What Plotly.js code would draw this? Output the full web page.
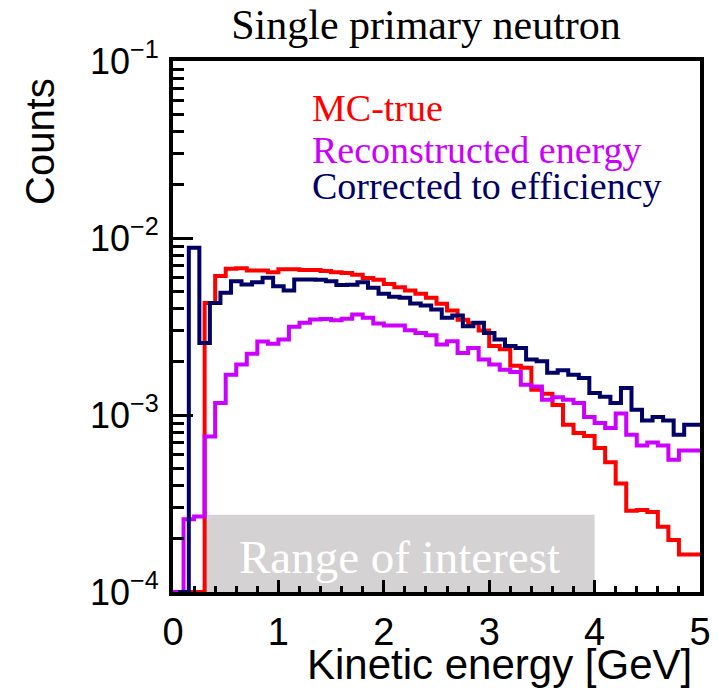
<!DOCTYPE html>
<html>
<head>
<meta charset="utf-8">
<script src="https://cdn.plot.ly/plotly-3.0.1.min.js"></script>
<style>html,body{margin:0;padding:0;background:#fff;}#chart{width:718px;height:691px;}</style>
</head>
<body>
<div id="chart"></div>
<script>
// ---- data (counts per 0.1 GeV bin) ----
const binWidth = 0.1;
const mcTrueLowEdge = 0.0;
const recoLowEdge = 0.0;
const correctedLowEdge = 0.05;

const mcTrue = [0, 0, 0, 4.3e-3, 6.1e-3, 6.7e-3, 6.75e-3, 6.55e-3, 6.55e-3, 6.4e-3,
  6.65e-3, 6.65e-3, 6.6e-3, 6.6e-3, 6.5e-3, 6.4e-3, 6.35e-3, 6.2e-3, 5.95e-3, 5.8e-3,
  5.5e-3, 5.27e-3, 5.05e-3, 4.84e-3, 4.6e-3, 4.25e-3, 3.9e-3, 3.45e-3, 3.3e-3, 3.0e-3,
  2.45e-3, 2.35e-3, 1.9e-3, 1.85e-3, 1.39e-3, 1.32e-3, 1.14e-3, 8.8e-4, 7.9e-4, 7.6e-4,
  6.5e-4, 5.4e-4, 4.1e-4, 2.88e-4, 2.91e-4, 2.83e-4, 2.34e-4, 1.97e-4, 1.63e-4, 1.63e-4];

const reconstructed = [0, 2.58e-4, 2.67e-4, 7.57e-4, 1.17e-3, 1.69e-3, 1.93e-3, 2.22e-3, 2.6e-3, 2.53e-3,
  2.67e-3, 3.15e-3, 3.32e-3, 3.46e-3, 3.49e-3, 3.43e-3, 3.5e-3, 3.7e-3, 3.54e-3, 3.29e-3,
  3.2e-3, 3.2e-3, 3.01e-3, 2.91e-3, 2.82e-3, 2.5e-3, 2.61e-3, 2.24e-3, 2.39e-3, 2.06e-3,
  1.93e-3, 1.8e-3, 1.75e-3, 1.48e-3, 1.45e-3, 1.22e-3, 1.26e-3, 1.22e-3, 1.17e-3, 9.75e-4,
  9.0e-4, 8.44e-4, 1.02e-3, 7.74e-4, 6.73e-4, 7.0e-4, 6.73e-4, 5.58e-4, 6.3e-4, 6.3e-4];

const corrected = [0, 8.8e-3, 2.55e-3, 4.3e-3, 4.9e-3, 5.7e-3, 5.46e-3, 5.63e-3, 5.96e-3, 5.34e-3,
  5.05e-3, 5.83e-3, 5.83e-3, 5.8e-3, 5.7e-3, 5.43e-3, 5.45e-3, 5.63e-3, 5.23e-3, 4.84e-3,
  4.65e-3, 4.59e-3, 4.27e-3, 4.16e-3, 3.95e-3, 3.54e-3, 3.65e-3, 3.17e-3, 3.32e-3, 2.91e-3,
  2.67e-3, 2.45e-3, 2.39e-3, 2.06e-3, 2.01e-3, 1.73e-3, 1.79e-3, 1.69e-3, 1.62e-3, 1.33e-3,
  1.27e-3, 1.17e-3, 1.42e-3, 1.07e-3, 9.31e-4, 9.75e-4, 9.31e-4, 7.74e-4, 8.81e-4, 8.81e-4];

const seriesNames = ["MC-true", "Reconstructed energy", "Corrected to efficiency"];
const xTickVals = [0, 1, 2, 3, 4, 5];
const xTickText = ["0", "1", "2", "3", "4", "5"];
const yTickVals = [1e-4, 1e-3, 1e-2, 1e-1];
const yTickText = ["10<sup>\u22124</sup>", "10<sup>\u22123</sup>", "10<sup>\u22122</sup>", "10<sup>\u22121</sup>"];
const xRange = [0, 5];
const yRange = [1e-4, 1e-1];
const roiRange = [0.3, 4.0];
const roiTop = 2.73e-4;
const roiLabel = "Range of interest";
const titleText = "Single primary neutron";
const xTitleText = "Kinetic energy [GeV]";
const yTitleText = "Counts";

// ---- layout geometry ----
const W = 718, H = 691;
const M = {l: 173, r: 18, t: 61, b: 99};
const PW = W - M.l - M.r, PH = H - M.t - M.b;
const px2x = px => (px - M.l) / PW;
const px2y = py => (H - M.b - py) / PH;

const colors = {red: "#ff0000", magenta: "#cc00ff", navy: "#000066", roi: "rgb(212,210,211)"};
const sans = "Liberation Sans, Arial, Helvetica, sans-serif";
const serif = "Liberation Serif, Times New Roman, Times, serif";

// Build ROOT-like step outline; empty bins drawn at the axis minimum
function stepTrace(vals, lowEdge, name, color) {
  const xs = [], ys = [];
  for (let i = 0; i <= vals.length; i++) {
    xs.push(lowEdge + i * binWidth);
    const v = vals[Math.min(i, vals.length - 1)];
    ys.push(v > 0 ? v : yRange[0]);
  }
  return {
    type: "scatter", mode: "lines", x: xs, y: ys, name: name,
    line: {shape: "hv", color: color, width: 4},
    hoverinfo: "skip", showlegend: false
  };
}

// grey "range of interest" band, drawn through the axes as a filled polygon
const roiTrace = {
  type: "scatter", mode: "lines",
  x: [roiRange[0], roiRange[1], roiRange[1], roiRange[0], roiRange[0]],
  y: [yRange[0], yRange[0], roiTop, roiTop, yRange[0]],
  fill: "toself", fillcolor: colors.roi, line: {width: 0, color: colors.roi},
  hoverinfo: "skip", showlegend: false, name: roiLabel
};

const traces = [
  roiTrace,
  stepTrace(mcTrue, mcTrueLowEdge, seriesNames[0], colors.red),
  stepTrace(reconstructed, recoLowEdge, seriesNames[1], colors.magenta),
  stepTrace(corrected, correctedLowEdge, seriesNames[2], colors.navy)
];

const layout = {
  width: W, height: H,
  margin: M,
  paper_bgcolor: "#ffffff", plot_bgcolor: "#ffffff",
  showlegend: false,
  title: {text: titleText, font: {family: serif, size: 42, color: "#000"},
          x: 426 / W, xanchor: "center", xref: "container",
          y: 1 - 24 / H, yanchor: "middle", yref: "container"},
  xaxis: {
    range: xRange, tickvals: xTickVals, ticktext: xTickText,
    ticks: "inside", ticklen: 12, tickwidth: 3, tickcolor: "#000",
    minor: {dtick: 0.2, tick0: 0, ticks: "inside", ticklen: 6, tickwidth: 3, tickcolor: "#000"},
    showline: true, mirror: true, linewidth: 4, linecolor: "#000",
    showgrid: false, zeroline: false, layer: "above traces",
    tickfont: {family: sans, size: 38, color: "#000"},
    ticklabelstandoff: 3
  },
  yaxis: {
    type: "log", range: [Math.log10(yRange[0]), Math.log10(yRange[1])],
    tickvals: yTickVals, ticktext: yTickText,
    ticks: "inside", ticklen: 20, tickwidth: 3, tickcolor: "#000",
    minor: {dtick: "D1", ticks: "inside", ticklen: 11, tickwidth: 3, tickcolor: "#000"},
    showline: true, mirror: true, linewidth: 4, linecolor: "#000",
    showgrid: false, zeroline: false, layer: "above traces",
    tickfont: {family: sans, size: 36, color: "#000"},
    ticklabelstandoff: 3
  },
  annotations: [
    {text: roiLabel, xref: "x", yref: "y", x: (roiRange[0] + roiRange[1]) / 2, y: -3.805,
     xanchor: "center", yanchor: "middle", showarrow: false,
     font: {family: serif, size: 47, color: "#ffffff"}},
    {text: seriesNames[0], xref: "paper", yref: "paper", x: px2x(310), y: px2y(108),
     xanchor: "left", yanchor: "middle", showarrow: false,
     font: {family: serif, size: 38, color: colors.red}},
    {text: seriesNames[1], xref: "paper", yref: "paper", x: px2x(310), y: px2y(150),
     xanchor: "left", yanchor: "middle", showarrow: false,
     font: {family: serif, size: 38, color: colors.magenta}},
    {text: seriesNames[2], xref: "paper", yref: "paper", x: px2x(310), y: px2y(186),
     xanchor: "left", yanchor: "middle", showarrow: false,
     font: {family: serif, size: 38, color: colors.navy}},
    {text: xTitleText, xref: "paper", yref: "paper", x: px2x(694), y: px2y(665),
     xanchor: "right", yanchor: "middle", showarrow: false,
     font: {family: sans, size: 42, color: "#000"}},
    {text: yTitleText, xref: "paper", yref: "paper", x: px2x(40), y: px2y(142),
     xanchor: "center", yanchor: "middle", showarrow: false, textangle: -90,
     font: {family: sans, size: 40, color: "#000"}}
  ]
};

Plotly.newPlot("chart", traces, layout, {staticPlot: true, displayModeBar: false});
</script>
</body>
</html>
